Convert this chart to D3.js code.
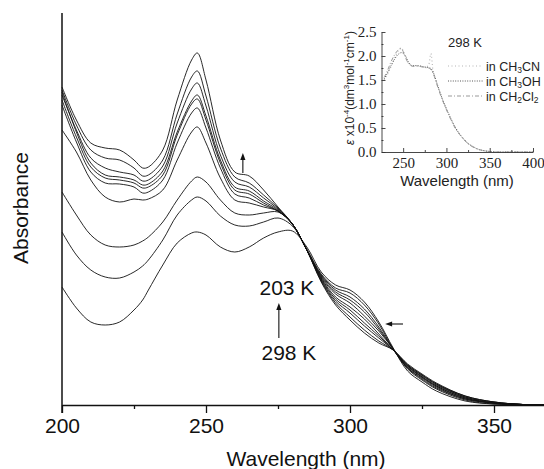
<!DOCTYPE html>
<html>
<head>
<meta charset="utf-8">
<script src="https://cdn.jsdelivr.net/npm/d3@7"></script>
<style>
  body { margin: 0; background: #fff; }
  svg { display: block; font-family: "Liberation Sans", Arial, sans-serif; }
</style>
</head>
<body>
<svg id="chart" width="544" height="469"></svg>
<script>
// wavelengths (nm) shared by all temperature curves
const wavelengths = [200, 205, 210, 215, 220, 225, 228, 230, 235, 240, 245, 247, 250, 255, 260, 265, 270, 275, 280, 285,
    290, 295, 300, 305, 310, 315, 320, 325, 330, 340, 350, 360, 370];

// absorbance (arb. units), from 203 K (top) down to 298 K (bottom)
const abs203 = [3.18, 2.85, 2.62, 2.57, 2.55, 2.45, 2.37, 2.38, 2.55, 3.05, 3.45, 3.52, 3.25, 2.65, 2.33, 2.29, 2.15, 1.98, 1.81, 1.55,
    1.23, 1.00, 0.85, 0.72, 0.62, 0.55, 0.41, 0.31, 0.22, 0.09, 0.03, 0.005, 0];
const abs2 = [3.15, 2.80, 2.55, 2.47, 2.45, 2.37, 2.29, 2.30, 2.45, 2.91, 3.28, 3.34, 3.09, 2.57, 2.28, 2.22, 2.10, 1.97, 1.81, 1.55,
    1.24, 1.02, 0.88, 0.75, 0.64, 0.55, 0.40, 0.30, 0.21, 0.09, 0.03, 0.005, 0];
const abs3 = [3.10, 2.75, 2.47, 2.37, 2.33, 2.30, 2.24, 2.25, 2.39, 2.82, 3.16, 3.22, 2.99, 2.50, 2.23, 2.18, 2.07, 1.96, 1.81, 1.55,
    1.25, 1.04, 0.92, 0.79, 0.67, 0.55, 0.40, 0.30, 0.21, 0.08, 0.03, 0.005, 0];
const abs4 = [3.13, 2.73, 2.42, 2.30, 2.28, 2.25, 2.20, 2.21, 2.34, 2.73, 3.04, 3.10, 2.89, 2.45, 2.18, 2.14, 2.04, 1.95, 1.81, 1.55,
    1.26, 1.06, 0.95, 0.82, 0.69, 0.55, 0.39, 0.29, 0.20, 0.08, 0.02, 0.005, 0];
const abs5 = [3.05, 2.68, 2.38, 2.27, 2.25, 2.22, 2.17, 2.18, 2.30, 2.70, 3.01, 3.06, 2.85, 2.42, 2.15, 2.11, 2.02, 1.94, 1.81, 1.55,
    1.27, 1.08, 0.98, 0.86, 0.71, 0.55, 0.39, 0.28, 0.19, 0.07, 0.02, 0.005, 0];
const abs6 = [3.00, 2.63, 2.33, 2.22, 2.21, 2.18, 2.12, 2.13, 2.25, 2.62, 2.92, 2.97, 2.77, 2.37, 2.11, 2.07, 2.00, 1.94, 1.81, 1.55,
    1.28, 1.11, 1.02, 0.89, 0.74, 0.56, 0.38, 0.28, 0.19, 0.07, 0.02, 0.005, 0];
const abs7 = [2.75, 2.53, 2.25, 2.08, 2.03, 2.06, 2.05, 2.06, 2.15, 2.45, 2.73, 2.78, 2.62, 2.27, 2.05, 2.02, 1.98, 1.94, 1.81, 1.55,
    1.29, 1.13, 1.05, 0.93, 0.76, 0.56, 0.37, 0.27, 0.18, 0.06, 0.02, 0.005, 0];
const abs8 = [2.13, 1.90, 1.70, 1.60, 1.58, 1.60, 1.64, 1.68, 1.83, 2.05, 2.24, 2.28, 2.23, 2.05, 1.92, 1.90, 1.92, 1.93, 1.81, 1.55,
    1.30, 1.15, 1.08, 0.96, 0.78, 0.56, 0.37, 0.26, 0.17, 0.06, 0.02, 0.005, 0];
const abs9 = [1.73, 1.50, 1.35, 1.28, 1.27, 1.33, 1.39, 1.45, 1.65, 1.90, 2.05, 2.08, 2.04, 1.89, 1.80, 1.79, 1.83, 1.87, 1.79, 1.56,
    1.31, 1.17, 1.12, 1.00, 0.81, 0.56, 0.36, 0.25, 0.16, 0.05, 0.01, 0.005, 0];
const abs298 = [1.18, 0.97, 0.83, 0.80, 0.83, 0.95, 1.05, 1.15, 1.40, 1.62, 1.72, 1.73, 1.70, 1.58, 1.53, 1.58, 1.67, 1.73, 1.74, 1.58,
    1.33, 1.20, 1.15, 1.03, 0.83, 0.57, 0.34, 0.23, 0.14, 0.04, 0.01, 0.005, 0];
const spectra = [abs203, abs2, abs3, abs4, abs5, abs6, abs7, abs8, abs9, abs298];

const xTicks = [200, 250, 300, 350];
const xMinor = [225, 275, 325, 375];

// inset: molar absorptivity at 298 K in three solvents
const insetWl = [228, 232, 236, 240, 244, 248, 252, 256, 260, 265, 270, 275, 279, 282, 285, 290, 295, 300, 305, 310,
    315, 320, 325, 330, 335, 340, 350, 360, 370, 385, 400];
const epsCH3CN = [1.50, 1.62, 1.78, 1.95, 2.10, 2.17, 2.02, 1.85, 1.80, 1.80, 1.79, 1.77, 1.80, 2.05, 1.65, 1.38, 1.12, 0.90, 0.70, 0.52,
    0.38, 0.27, 0.18, 0.12, 0.07, 0.04, 0.01, 0, 0, 0, 0];
const epsCH3OH = [1.52, 1.65, 1.80, 1.93, 2.03, 2.07, 2.02, 1.88, 1.80, 1.80, 1.79, 1.77, 1.76, 1.74, 1.65, 1.38, 1.12, 0.90, 0.70, 0.52,
    0.38, 0.27, 0.18, 0.12, 0.07, 0.04, 0.01, 0, 0, 0, 0];
const epsCH2Cl2 = [1.55, 1.70, 1.88, 2.02, 2.12, 2.15, 2.00, 1.85, 1.79, 1.79, 1.78, 1.76, 1.75, 1.72, 1.62, 1.35, 1.10, 0.88, 0.68, 0.50,
    0.37, 0.26, 0.17, 0.11, 0.07, 0.04, 0.01, 0, 0, 0, 0];
const insetXTicks = [250, 300, 350, 400];
const insetXMinor = [275, 325, 375];
const insetYTicks = [0, 0.5, 1.0, 1.5, 2.0, 2.5];
const insetYMinor = [0.25, 0.75, 1.25, 1.75, 2.25];

const svg = d3.select("#chart");

const x = d3.scaleLinear().domain([200, 370]).range([62, 551.6]);
const y = d3.scaleLinear().domain([0, 4]).range([405, 5]);

const line = d3.line()
    .x((d, i) => x(wavelengths[i]))
    .y(d => y(d))
    .curve(d3.curveCatmullRom.alpha(0.5));

svg.append("g")
    .selectAll("path")
    .data(spectra)
    .enter().append("path")
    .attr("d", line)
    .attr("fill", "none")
    .attr("stroke", "#111")
    .attr("stroke-width", 0.9);

// x axis
const xAxis = svg.append("g")
    .attr("transform", "translate(0,405)")
    .call(d3.axisBottom(x).tickValues(xTicks).tickSize(8).tickSizeOuter(0).tickPadding(5));
xAxis.select(".domain").attr("stroke", "#111").attr("stroke-width", 1.5);
xAxis.selectAll(".tick line").attr("stroke", "#111").attr("stroke-width", 1.3);
xAxis.selectAll("text").attr("font-size", 21).attr("font-family", "Liberation Sans, Arial, sans-serif").attr("fill", "#111");

const xMin = svg.append("g")
    .attr("transform", "translate(0,405)")
    .call(d3.axisBottom(x).tickValues(xMinor).tickSize(4).tickFormat(""));
xMin.select(".domain").remove();
xMin.selectAll(".tick line").attr("stroke", "#111").attr("stroke-width", 1.3);

// y axis: plain line, no ticks
svg.append("line")
    .attr("x1", x(200)).attr("x2", x(200))
    .attr("y1", y(3.92)).attr("y2", 413)
    .attr("stroke", "#111").attr("stroke-width", 1.5);

svg.append("text")
    .attr("transform", "translate(28,208) rotate(-90)")
    .attr("text-anchor", "middle")
    .attr("font-size", 21)
    .attr("fill", "#111")
    .text("Absorbance");

svg.append("text")
    .attr("x", 306).attr("y", 466)
    .attr("text-anchor", "middle")
    .attr("font-size", 21)
    .attr("fill", "#111")
    .text("Wavelength (nm)");

// annotations
function arrow(x1, y1, x2, y2) {
    const ang = Math.atan2(y2 - y1, x2 - x1);
    const L = 7, W = 2.6;
    svg.append("line")
        .attr("x1", x1).attr("y1", y1).attr("x2", x2 - Math.cos(ang) * 4).attr("y2", y2 - Math.sin(ang) * 4)
        .attr("stroke", "#111").attr("stroke-width", 1.1);
    const bx = x2 - Math.cos(ang) * L, by = y2 - Math.sin(ang) * L;
    svg.append("path")
        .attr("d", `M${x2},${y2}L${bx - Math.sin(ang) * W},${by + Math.cos(ang) * W}L${bx + Math.sin(ang) * W},${by - Math.cos(ang) * W}Z`)
        .attr("fill", "#111");
}
arrow(x(262.8), y(2.32), x(262.8), y(2.52));
arrow(x(275.3), y(0.67), x(275.3), y(1.02));
arrow(x(318.4), y(0.81), x(312.2), y(0.81));

svg.append("text").attr("x", x(278.1)).attr("y", y(1.10))
    .attr("text-anchor", "middle").attr("font-size", 21).attr("fill", "#111").text("203 K");
svg.append("text").attr("x", x(278.8)).attr("y", y(0.45))
    .attr("text-anchor", "middle").attr("font-size", 21).attr("fill", "#111").text("298 K");

// inset
const ix = d3.scaleLinear().domain([225, 400]).range([381.5, 533]);
const iy = d3.scaleLinear().domain([0, 2.5]).range([152, 32]);
const inset = svg.append("g");

const iLine = d3.line()
    .x((d, i) => ix(insetWl[i]))
    .y(d => iy(d))
    .curve(d3.curveCatmullRom.alpha(0.5));

const solvents = [
    { name: ["in CH", "3", "CN"], data: epsCH3CN, color: "#b5b5b5", dash: "1,2.5", width: 1.1 },
    { name: ["in CH", "3", "OH"], data: epsCH3OH, color: "#555", dash: "1,1.4", width: 1 },
    { name: ["in CH", "2", "Cl", "2"], data: epsCH2Cl2, color: "#999", dash: "4,2,1,2", width: 1 }
];

inset.selectAll("path.eps")
    .data(solvents)
    .enter().append("path")
    .attr("class", "eps")
    .attr("d", d => iLine(d.data))
    .attr("fill", "none")
    .attr("stroke", d => d.color)
    .attr("stroke-dasharray", d => d.dash)
    .attr("stroke-width", d => d.width);

const serif = "Liberation Serif, Times New Roman, serif";
const ixAxis = inset.append("g").attr("transform", "translate(0,152)")
    .call(d3.axisBottom(ix).tickValues(insetXTicks).tickSize(-4).tickSizeOuter(0).tickPadding(5));
ixAxis.selectAll("text").attr("font-size", 15).attr("font-family", serif).attr("fill", "#222");
const ixMin = inset.append("g").attr("transform", "translate(0,152)")
    .call(d3.axisBottom(ix).tickValues(insetXMinor).tickSize(-2).tickFormat(""));
ixMin.select(".domain").remove();

const iyAxis = inset.append("g").attr("transform", "translate(381.5,0)")
    .call(d3.axisLeft(iy).tickValues(insetYTicks).tickSize(-4).tickSizeOuter(0).tickPadding(5).tickFormat(d3.format(".1f")));
iyAxis.selectAll("text").attr("font-size", 15).attr("font-family", serif).attr("fill", "#222");
const iyMin = inset.append("g").attr("transform", "translate(381.5,0)")
    .call(d3.axisLeft(iy).tickValues(insetYMinor).tickSize(-2).tickFormat(""));
iyMin.select(".domain").remove();
inset.selectAll(".domain, .tick line").attr("stroke", "#333").attr("stroke-width", 0.9);

inset.append("text")
    .attr("x", 457).attr("y", 186)
    .attr("text-anchor", "middle")
    .attr("font-size", 15)
    .attr("fill", "#222")
    .text("Wavelength (nm)");

// rotated y label with superscripts
const yl = inset.append("text")
    .attr("transform", "translate(354,88) rotate(-90)")
    .attr("text-anchor", "middle")
    .attr("font-size", 12)
    .attr("fill", "#222");
yl.append("tspan").attr("font-style", "italic").text("ε");
yl.append("tspan").text(" x10");
yl.append("tspan").attr("font-size", 8).attr("dy", -5).text("-4");
yl.append("tspan").attr("dy", 5).text("(dm");
yl.append("tspan").attr("font-size", 8).attr("dy", -5).text("3");
yl.append("tspan").attr("dy", 5).text("mol");
yl.append("tspan").attr("font-size", 8).attr("dy", -5).text("-1");
yl.append("tspan").attr("dy", 5).text("cm");
yl.append("tspan").attr("font-size", 8).attr("dy", -5).text("-1");
yl.append("tspan").attr("dy", 5).text(")");

// legend
inset.append("text").attr("x", 448).attr("y", 47)
    .attr("font-size", 13).attr("fill", "#222").text("298 K");
const rowY = [66, 81, 96];
solvents.forEach((s, i) => {
    inset.append("line")
        .attr("x1", 448).attr("x2", 483)
        .attr("y1", rowY[i]).attr("y2", rowY[i])
        .attr("stroke", s.color).attr("stroke-dasharray", s.dash).attr("stroke-width", s.width);
    const t = inset.append("text").attr("x", 486).attr("y", rowY[i] + 4.5)
        .attr("font-size", 12.5).attr("fill", "#222");
    s.name.forEach((part, k) => {
        const sub = k % 2 === 1;
        t.append("tspan")
            .attr("font-size", sub ? 8.5 : 12.5)
            .attr("dy", k === 0 ? 0 : (sub ? 2.5 : -2.5))
            .text(part);
    });
});
</script>
</body>
</html>
